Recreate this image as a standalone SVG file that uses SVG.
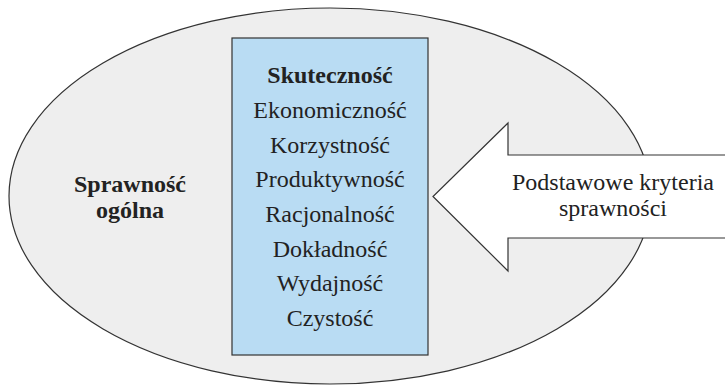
<svg xmlns="http://www.w3.org/2000/svg" width="725" height="385" viewBox="0 0 725 385">
  <style>
    .txt { font-family: "Liberation Serif", "DejaVu Serif", serif; font-size: 24px; fill: #222; text-anchor: middle; }
    .bold { font-weight: bold; }
    .line { stroke: #333; stroke-width: 1.2; }
  </style>
  <rect x="0" y="0" width="725" height="385" fill="#ffffff"/>

  <!-- outer field: overall efficiency -->
  <g id="sprawnosc-ogolna">
    <ellipse class="line" cx="330" cy="196" rx="321" ry="188" fill="#eeeeee"/>
    <text class="txt bold" x="130" y="192">Sprawność</text>
    <text class="txt bold" x="130" y="218">ogólna</text>
  </g>

  <!-- list of criteria -->
  <g id="kryteria-lista">
    <rect class="line" x="232" y="38" width="196" height="317" fill="#b9dcf3"/>
    <text class="txt bold" x="330" y="83">Skuteczność</text>
    <text class="txt" x="330" y="118">Ekonomiczność</text>
    <text class="txt" x="330" y="153">Korzystność</text>
    <text class="txt" x="330" y="187">Produktywność</text>
    <text class="txt" x="330" y="222">Racjonalność</text>
    <text class="txt" x="330" y="257">Dokładność</text>
    <text class="txt" x="330" y="291">Wydajność</text>
    <text class="txt" x="330" y="326">Czystość</text>
  </g>

  <!-- block arrow pointing at the list -->
  <g id="connectors">
    <g id="podstawowe-kryteria">
      <polygon class="line" fill="#ffffff" points="727,155 508,155 508,123 433,196.5 508,271 508,238 727,238"/>
      <text class="txt" x="613" y="190">Podstawowe kryteria</text>
      <text class="txt" x="613" y="216">sprawności</text>
    </g>
  </g>
</svg>
